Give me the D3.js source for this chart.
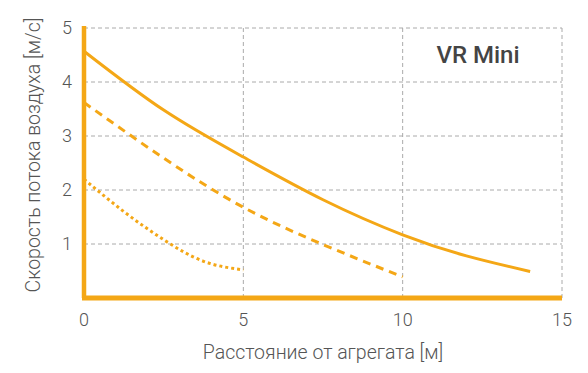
<!DOCTYPE html>
<html>
<head>
<meta charset="utf-8">
<script src="https://cdn.jsdelivr.net/npm/d3@7"></script>
<style>
  body { margin: 0; background: #fff; }
  svg text { font-family: Roboto, "Noto Sans", sans-serif; }
</style>
</head>
<body>
<svg id="chart" width="588" height="373"></svg>
<script>
// values
const xTicks = [0, 5, 10, 15];
const yTicks = [1, 2, 3, 4, 5];

const solidX = [0, 2.5, 5, 7.5, 10, 12, 14];
const solidY = [4.57, 3.48, 2.61, 1.82, 1.17, 0.78, 0.49];

const dashedX = [0, 2.5, 5, 7.5, 10];
const dashedY = [3.62, 2.59, 1.68, 0.99, 0.39];

const dottedX = [0, 1.25, 2.5, 3.75, 5];
const dottedY = [2.2, 1.6, 1.08, 0.68, 0.52];

const orange = "#f4a716";
const textColor = "#555";

const margin = { top: 28, right: 26, bottom: 75, left: 84 };
const width = 588, height = 373;

const svg = d3.select("#chart");

const x = d3.scaleLinear().domain([0, 15]).range([margin.left, width - margin.right]);
const y = d3.scaleLinear().domain([0, 5]).range([height - margin.bottom, margin.top]);

// grid
const grid = svg.append("g")
  .attr("stroke", "#aaa")
  .attr("stroke-width", 1)
  .attr("stroke-dasharray", "4,3");

grid.selectAll("line.v")
  .data(xTicks.filter(d => d > 0))
  .enter().append("line")
  .attr("x1", d => x(d)).attr("x2", d => x(d))
  .attr("y1", y(0)).attr("y2", y(5));

grid.selectAll("line.h")
  .data(yTicks)
  .enter().append("line")
  .attr("x1", x(0)).attr("x2", x(15))
  .attr("y1", d => y(d)).attr("y2", d => y(d));

// curves
const line = d3.line()
  .x(d => x(d[0]))
  .y(d => y(d[1]))
  .curve(d3.curveNatural);

const series = [
  { xs: solidX, ys: solidY, dash: null },
  { xs: dashedX, ys: dashedY, dash: "8,6" },
  { xs: dottedX, ys: dottedY, dash: "3,3" }
];

series.forEach(s => {
  svg.append("path")
    .datum(s.xs.map((v, i) => [v, s.ys[i]]))
    .attr("fill", "none")
    .attr("stroke", orange)
    .attr("stroke-width", 3)
    .attr("stroke-dasharray", s.dash)
    .attr("d", line);
});

// thick axis lines
svg.append("line")
  .attr("x1", x(0)).attr("x2", x(0))
  .attr("y1", y(0)).attr("y2", y(5) - 2)
  .attr("stroke", orange).attr("stroke-width", 4.5);

svg.append("line")
  .attr("x1", x(0) - 2).attr("x2", x(15))
  .attr("y1", y(0)).attr("y2", y(0))
  .attr("stroke", orange).attr("stroke-width", 5);

// tick labels
svg.append("g").selectAll("text")
  .data(xTicks)
  .enter().append("text")
  .attr("x", d => x(d))
  .attr("y", y(0) + 28)
  .attr("text-anchor", "middle")
  .attr("font-size", 18)
  .attr("font-weight", 300)
  .attr("fill", textColor)
  .text(d => d);

svg.append("g").selectAll("text")
  .data(yTicks)
  .enter().append("text")
  .attr("x", x(0) - 12)
  .attr("y", d => y(d))
  .attr("dy", "0.35em")
  .attr("text-anchor", "end")
  .attr("font-size", 18)
  .attr("font-weight", 300)
  .attr("fill", textColor)
  .text(d => d);

// axis titles
svg.append("text")
  .attr("x", (x(0) + x(15)) / 2)
  .attr("y", 359)
  .attr("text-anchor", "middle")
  .attr("font-size", 19.5)
  .attr("font-weight", 300)
  .attr("fill", textColor)
  .text("Расстояние от агрегата [м]");

svg.append("text")
  .attr("transform", `translate(40,155) rotate(-90)`)
  .attr("text-anchor", "middle")
  .attr("font-size", 19.5)
  .attr("font-weight", 300)
  .attr("fill", textColor)
  .text("Скорость потока воздуха [м/с]");

// chart label
svg.append("text")
  .attr("x", 478)
  .attr("y", 63)
  .attr("text-anchor", "middle")
  .attr("font-size", 24)
  .attr("font-weight", 500)
  .attr("fill", "#444")
  .text("VR Mini");
</script>
</body>
</html>
